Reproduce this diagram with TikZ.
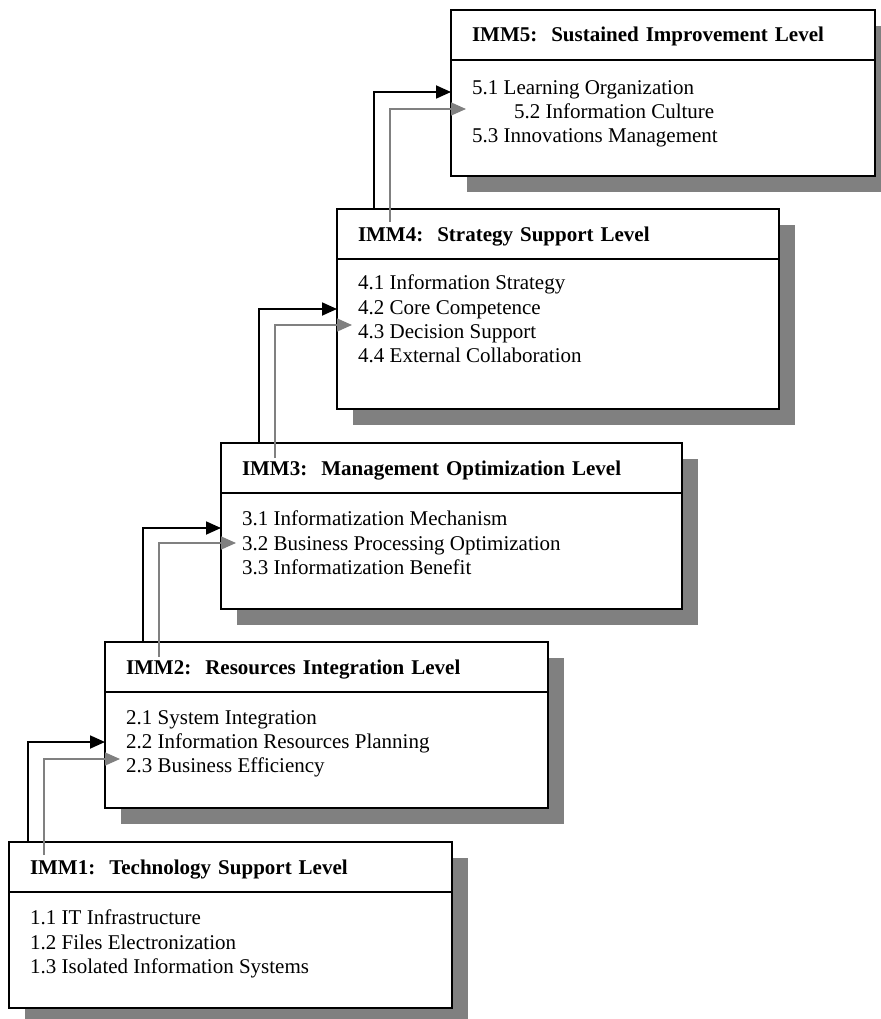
\documentclass[tikz,border=0pt]{standalone}
\usepackage{fontspec}
\setmainfont{Liberation Serif}
\usetikzlibrary{arrows.meta,positioning,shadows}

\begin{document}
\begin{tikzpicture}[x=1pt,y=-1pt,>={Triangle[length=15pt,width=13pt]}]
  \tikzstyle{lvl}=[draw,line width=2pt,fill=white,outer sep=0pt,drop shadow={shadow xshift=16pt,shadow yshift=-16pt,fill=gray,opacity=1}]
  \tikzstyle{head}=[lvl,anchor=north west,inner xsep=21pt,minimum height=50pt,text height=14pt,text depth=0pt,align=left,font=\fontsize{21}{24}\bfseries]
  \tikzstyle{body}=[lvl,minimum height=116pt]
  \tikzstyle{items}=[inner sep=0pt,align=left,anchor=north west,font=\fontsize{21}{24.3}\selectfont]
  \tikzstyle{up}=[line width=1.8pt,->]
  \tikzstyle{upgray}=[line width=1.5pt,draw=gray,->]
  \useasboundingbox (0,0) rectangle (880,1019);

  % level 1
  \node[head,text width=401pt] (h1) at (9,842) {IMM1:~~Technology Support Level};
  \node[body,minimum width=443pt,below=0pt of h1] (b1) {};
  \node[items] (t1) at ([xshift=21pt,yshift=-18pt]b1.north west) {1.1 IT Infrastructure\\1.2 Files Electronization\\1.3 Isolated Information Systems};

  % level 2
  \node[head,text width=401pt] (h2) at (105,642) {IMM2:~~Resources Integration Level};
  \node[body,minimum width=443pt,below=0pt of h2] (b2) {};
  \node[items] (t2) at ([xshift=21pt,yshift=-18pt]b2.north west) {2.1 System Integration\\2.2 Information Resources Planning\\2.3 Business Efficiency};

  % level 3
  \node[head,text width=419pt] (h3) at (221,443) {IMM3:~~Management Optimization Level};
  \node[body,minimum width=461pt,below=0pt of h3] (b3) {};
  \node[items] (t3) at ([xshift=21pt,yshift=-18pt]b3.north west) {3.1 Informatization Mechanism\\3.2 Business Processing Optimization\\3.3 Informatization Benefit};

  % level 4
  \node[head,text width=400pt] (h4) at (337,209) {IMM4:~~Strategy Support Level};
  \node[body,minimum width=442pt,minimum height=150pt,below=0pt of h4] (b4) {};
  \node[items] (t4) at ([xshift=21pt,yshift=-16pt]b4.north west) {4.1 Information Strategy\\4.2 Core Competence\\4.3 Decision Support\\4.4 External Collaboration};

  % level 5
  \node[head,text width=382pt] (h5) at (451,10) {IMM5:~~Sustained Improvement Level};
  \node[body,minimum width=424pt,below=0pt of h5] (b5) {};
  \node[items] (t5) at ([xshift=21pt,yshift=-20pt]b5.north west) {5.1 Learning Organization\\\hspace*{42pt}5.2 Information Culture\\5.3 Innovations Management};

  % steps up
  \draw[up] ([xshift=19pt]h1.north west) |- ([yshift=-50pt]b2.north west);
  \draw[upgray] ([xshift=35pt,yshift=-13pt]h1.north west) |- ([xshift=15pt,yshift=-67pt]b2.north west);
  \draw[up] ([xshift=38pt]h2.north west) |- ([yshift=-35pt]b3.north west);
  \draw[upgray] ([xshift=54pt,yshift=-15pt]h2.north west) |- ([xshift=15pt,yshift=-50pt]b3.north west);
  \draw[up] ([xshift=38pt]h3.north west) |- ([yshift=-50pt]b4.north west);
  \draw[upgray] ([xshift=54pt,yshift=-15pt]h3.north west) |- ([xshift=15pt,yshift=-66pt]b4.north west);
  \draw[up] ([xshift=37pt]h4.north west) |- ([yshift=-32pt]b5.north west);
  \draw[upgray] ([xshift=53pt,yshift=-13pt]h4.north west) |- ([xshift=15pt,yshift=-49pt]b5.north west);
\end{tikzpicture}
\end{document}
